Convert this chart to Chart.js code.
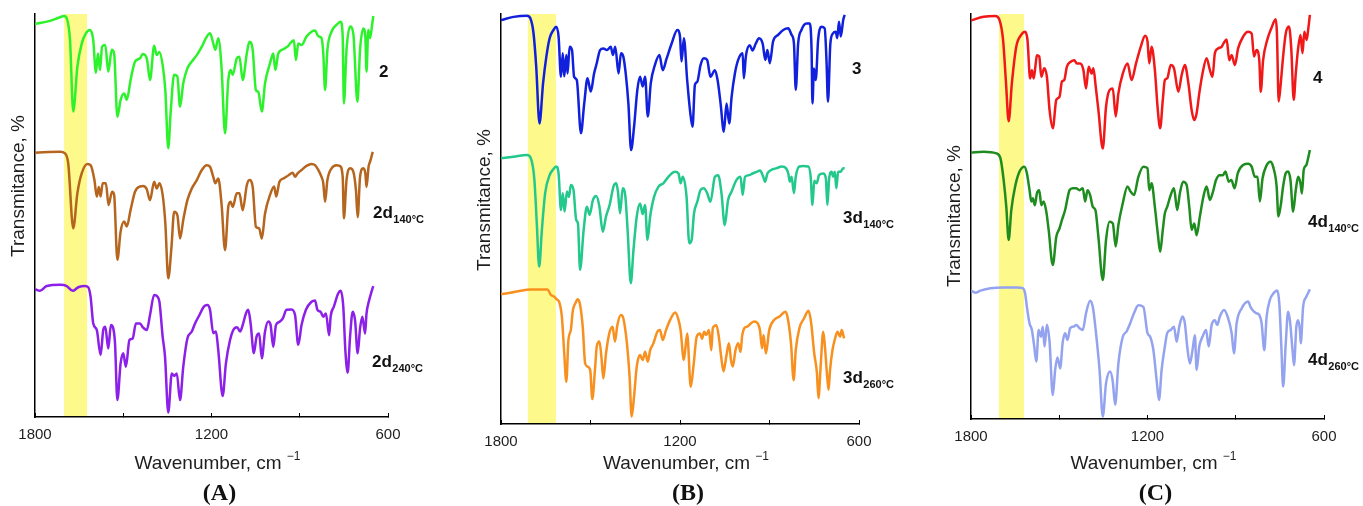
<!DOCTYPE html>
<html lang="en">
<head>
    <meta charset="UTF-8">
    <title>IR spectra (A) (B) (C)</title>
    <script src="https://cdn.jsdelivr.net/npm/chart.js"></script>
    <style>
        body {
            margin: 0;
            background: #ffffff;
        }
        .wrap {
            position: relative;
            width: 1363px;
            height: 506px;
        }
        canvas {
            position: absolute;
            top: 0;
        }
    </style>
</head>
<body>
    <div class="wrap">
        <canvas id="chartA" width="455" height="506" style="left:0px"></canvas>
        <canvas id="chartB" width="455" height="506" style="left:455px"></canvas>
        <canvas id="chartC" width="453" height="506" style="left:910px"></canvas>
    </div>

    <script>
        // axis ticks (cm-1), labelled ones
        const xTickLabels = [1800, 1200, 600];

        // highlighted C=O region for each panel (cm-1)
        const bandA = [1701, 1623];
        const bandB = [1710, 1616];
        const bandC = [1705, 1620];

        // ---- panel A ----
        const wn2 = [1800,1749,1715,1701,1692,1681,1670,1656,1641,1627,1613,1602,1593,1586,1579,1572,1561,1551,1539,1531,1520,1509,1497,1488,1475,1460,1443,1434,1420,1409,1395,1386,1377,1366,1357,1347,1339,1327,1316,1307,1296,1282,1267,1250,1233,1219,1205,1194,1187,1177,1166,1154,1143,1135,1128,1114,1105,1094,1080,1071,1060,1049,1041,1029,1018,1001,990,983,973,958,942,928,920,913,905,894,877,860,848,837,826,820,814,806,792,775,761,754,750,741,729,718,704,695,684,677,673,667,661,654,650];
        const t2 = [97.5,98.3,99.2,99.5,98.9,93.5,75.8,86.9,92.7,95.2,96.0,93.5,85.4,90.2,86.1,91.9,92.3,85.7,91.1,90.2,74.5,78.7,80.3,78.7,83.6,88.2,89.0,90.1,89.0,83.6,92.1,89.8,90.6,87.3,81.1,66.7,75.4,84.9,84.5,77.0,82.8,86.5,88.2,89.8,91.9,94.0,95.2,92.7,91.1,94.0,86.9,70.4,83.6,86.1,84.9,89.0,89.4,83.6,90.2,93.1,91.1,81.1,80.7,75.8,82.8,87.8,90.2,86.1,90.2,91.2,91.9,93.1,93.5,88.6,92.7,92.3,94.4,95.6,95.9,94.5,94.0,90.2,81.1,91.1,95.6,97.3,98.1,94.4,77.8,91.1,96.9,95.2,78.2,91.1,96.4,94.4,85.7,96.0,94.0,97.3,99.5];

        const wn2d140 = [1800,1715,1698,1687,1670,1656,1641,1622,1611,1598,1590,1583,1577,1570,1559,1550,1538,1531,1520,1509,1497,1488,1475,1460,1443,1432,1420,1409,1395,1386,1377,1366,1357,1347,1336,1327,1316,1307,1296,1282,1267,1250,1233,1216,1205,1194,1187,1177,1166,1154,1143,1135,1128,1114,1105,1094,1080,1071,1060,1049,1038,1029,1018,1001,987,980,969,955,938,924,916,908,894,877,860,848,837,826,820,814,806,792,775,764,754,750,741,729,718,709,703,695,684,677,673,666,659,652];
        const t2d140 = [65.6,65.8,65.4,62.9,46.8,55.5,60.5,62.8,62.5,58.8,54.7,57.1,54.7,58.0,58.0,52.6,55.9,55.1,39.0,46.0,48.5,47.3,51.4,55.9,57.2,57.3,56.5,53.8,58.4,56.7,58.0,55.1,48.1,34.4,42.3,50.9,50.1,44.3,48.9,53.8,56.7,58.8,61.3,62.5,62.1,59.6,58.0,59.2,53.0,41.4,52.1,53.4,52.1,55.5,55.5,51.3,57.5,58.8,57.1,47.2,46.8,44.3,50.5,55.1,57.2,54.7,58.4,59.2,60.0,60.6,59.6,60.4,61.3,62.3,62.8,62.5,61.3,59.6,58.0,53.4,58.8,61.7,62.5,62.3,59.6,49.3,58.8,61.7,60.9,56.3,49.6,59.6,61.7,60.4,57.1,62.1,63.8,65.8];

        const wn2d240 = [1800,1783,1760,1715,1692,1672,1653,1630,1619,1611,1602,1590,1577,1568,1561,1551,1542,1534,1528,1520,1509,1500,1491,1479,1468,1457,1443,1434,1420,1409,1395,1384,1377,1366,1358,1347,1335,1327,1318,1307,1296,1282,1267,1256,1241,1226,1214,1205,1194,1185,1177,1162,1151,1137,1126,1113,1103,1094,1083,1075,1067,1056,1047,1038,1029,1018,1007,999,990,981,969,958,945,928,916,905,894,879,860,848,840,829,820,811,800,795,784,769,761,752,745,737,729,720,712,703,695,687,678,673,664,656,650];
        const t2d240 = [31.7,31.3,32.5,32.8,32.5,31.3,32.2,32.5,32.2,29.8,23.2,21.6,15.4,21.6,22.4,17.0,22.8,22.0,18.3,4.2,13.3,15.8,12.5,19.1,19.5,23.2,23.2,22.3,21.6,25.3,30.3,29.9,28.6,19.9,15.0,1.1,10.8,10.2,10.8,4.2,12.5,19.5,21.2,23.2,25.3,27.4,27.8,26.6,20.8,21.2,16.6,5.2,13.3,19.1,21.6,22.3,21.2,22.8,25.7,26.6,23.2,15.8,19.9,20.7,14.6,21.2,23.7,22.8,17.4,22.8,23.6,24.4,26.6,26.7,25.3,17.9,22.8,26.6,28.6,28.9,26.6,26.1,24.9,25.7,20.3,24.9,27.4,30.7,31.3,27.4,16.6,11.0,19.9,26.1,24.0,15.8,22.0,24.9,20.7,25.7,29.0,31.1,32.5];

        // ---- panel B ----
        const wn3 = [1800,1758,1713,1702,1691,1682,1671,1659,1648,1637,1624,1615,1607,1599,1593,1588,1581,1577,1570,1562,1555,1546,1532,1521,1510,1499,1488,1479,1468,1457,1445,1432,1425,1417,1406,1398,1390,1382,1373,1364,1354,1343,1334,1325,1317,1308,1298,1284,1269,1258,1245,1228,1209,1200,1195,1187,1176,1166,1158,1150,1142,1131,1120,1109,1098,1083,1074,1064,1053,1044,1035,1027,1016,1005,990,986,979,966,957,946,935,923,914,907,899,888,871,854,837,826,818,812,804,793,776,765,759,756,751,745,737,726,715,709,704,696,687,678,673,667,661,653,648];
        const t3 = [98.5,99.3,99.6,99.0,95.3,87.2,73.3,83.1,89.6,94.1,96.1,96.9,94.5,84.7,90.4,84.8,90.0,85.5,92.0,91.2,84.7,83.9,70.9,78.2,84.3,81.1,85.5,88.0,91.2,91.6,91.2,92.0,90.0,92.0,85.5,90.4,89.6,85.5,78.2,66.8,72.5,81.5,84.7,82.3,84.7,75.0,83.1,87.6,90.0,86.3,89.1,92.8,96.1,94.5,88.4,94.1,83.9,76.2,72.5,82.7,83.5,87.6,89.2,88.8,84.7,86.3,83.9,78.2,71.3,78.2,73.3,79.8,85.5,88.8,90.4,84.3,89.8,92.4,91.1,92.8,94.1,92.8,88.8,91.2,88.0,93.3,94.9,96.1,96.5,94.9,92.8,81.5,92.8,96.1,97.7,97.7,91.2,78.2,86.7,83.9,93.7,96.9,96.5,88.8,78.6,92.8,95.3,95.7,94.1,98.1,94.5,98.5,99.8];

        const wn3d140 = [1800,1758,1713,1700,1688,1680,1672,1663,1652,1637,1626,1615,1607,1599,1593,1587,1579,1572,1566,1557,1548,1542,1535,1523,1512,1503,1492,1481,1470,1459,1448,1436,1423,1414,1408,1401,1392,1383,1375,1365,1356,1345,1334,1325,1317,1309,1300,1287,1272,1256,1239,1217,1205,1198,1191,1178,1169,1161,1153,1142,1131,1120,1109,1098,1083,1072,1061,1050,1039,1027,1011,997,990,982,968,957,943,932,921,915,907,893,876,859,845,837,832,826,818,812,800,787,770,762,756,750,742,734,720,711,706,700,692,687,681,676,670,662,653,648];
        const t3d140 = [64.8,65.2,65.6,64.8,59.5,48.9,38.4,47.3,56.3,60.7,62.0,62.8,61.1,52.2,56.3,51.8,56.7,55.4,58.3,57.1,49.8,48.9,37.6,47.3,53.0,51.0,54.6,55.6,53.0,46.9,50.6,53.4,57.9,58.7,56.7,51.4,57.5,55.4,46.5,34.3,42.4,50.6,53.8,51.2,53.4,44.9,50.6,55.4,57.9,58.7,60.3,61.5,61.1,58.7,60.3,55.4,44.1,44.9,51.4,54.2,57.1,57.5,56.3,54.2,60.3,60.7,56.3,48.5,54.6,56.7,59.5,60.3,55.9,60.3,60.7,61.1,61.5,61.8,60.3,59.1,61.1,62.0,62.4,62.8,62.4,61.1,59.1,60.3,56.3,60.3,62.8,62.9,62.8,60.3,53.4,59.3,58.7,60.7,61.1,59.9,53.4,59.9,61.5,60.3,61.5,57.5,61.5,61.5,62.4,62.4];

        const wn3d260 = [1800,1769,1735,1702,1668,1644,1633,1622,1613,1605,1596,1588,1581,1574,1566,1559,1551,1543,1535,1526,1518,1510,1501,1494,1485,1479,1470,1463,1457,1448,1437,1426,1418,1410,1398,1390,1378,1369,1362,1354,1345,1334,1325,1317,1308,1300,1289,1276,1267,1258,1247,1233,1216,1205,1198,1187,1176,1164,1155,1144,1133,1126,1119,1112,1103,1095,1090,1078,1070,1062,1054,1045,1036,1029,1023,1014,1005,997,992,984,973,962,951,940,932,925,920,912,901,884,865,847,840,828,819,812,800,784,769,761,750,741,736,728,720,714,708,702,697,689,680,672,663,658,650];
        const t3d260 = [31.7,32.0,32.5,32.8,32.8,32.8,31.5,31.1,30.4,29.8,26.2,17.2,10.3,20.5,22.9,27.8,29.4,30.4,29.1,23.7,14.8,14.0,13.2,6.1,13.2,18.9,20.1,16.0,11.1,17.2,22.1,23.7,20.1,24.1,26.6,25.8,19.7,11.5,1.8,6.7,14.0,16.8,15.6,17.6,15.2,18.0,19.7,22.5,22.9,20.5,22.9,25.4,27.2,25.4,22.9,15.6,22.1,9.1,14.0,21.3,22.1,20.8,22.5,21.7,22.9,18.0,23.4,24.1,21.3,16.4,12.8,16.4,19.7,15.6,14.0,18.0,19.7,17.6,21.3,23.4,23.8,24.6,25.0,24.6,22.9,18.5,21.7,17.2,22.9,25.4,26.3,27.4,26.2,19.7,10.7,18.0,23.3,25.8,27.6,25.0,17.2,12.4,6.3,14.8,22.5,18.7,12.8,8.3,13.2,18.0,20.9,22.5,21.3,22.9,20.9];

        // ---- panel C ----
        const wn4 = [1800,1757,1717,1703,1691,1681,1672,1661,1646,1630,1616,1608,1599,1593,1587,1581,1576,1568,1561,1551,1542,1533,1522,1510,1499,1491,1483,1474,1461,1449,1440,1429,1418,1409,1400,1390,1384,1376,1367,1352,1341,1329,1318,1308,1299,1284,1268,1254,1239,1223,1208,1200,1194,1186,1175,1165,1157,1148,1141,1133,1121,1110,1095,1084,1073,1061,1050,1041,1033,1024,1013,999,988,979,971,960,948,941,931,922,914,903,892,875,858,846,838,829,820,815,807,793,779,764,760,754,747,739,730,719,711,703,696,688,680,673,667,659,654,648];
        const t4 = [98.4,99.3,99.5,98.5,93.6,83.0,73.5,83.0,92.0,94.8,95.6,93.6,84.1,86.1,84.1,87.1,89.8,89.5,84.5,86.6,84.5,76.3,71.8,78.8,79.6,83.3,83.7,87.0,88.2,88.6,87.8,87.8,86.2,81.6,87.0,85.3,86.6,82.1,76.3,66.8,77.1,81.2,81.6,74.7,80.4,85.3,87.8,83.7,87.8,91.9,94.6,93.2,87.8,91.9,86.2,76.3,71.8,78.8,83.7,84.1,87.4,86.6,80.8,84.9,87.4,82.9,76.3,73.8,75.5,80.4,85.3,89.1,86.2,84.5,90.3,91.5,91.9,92.8,93.7,88.6,89.9,87.4,91.5,94.4,95.6,95.2,89.5,91.1,88.6,80.8,88.6,93.6,96.5,98.7,95.2,78.4,82.9,89.5,95.2,96.9,91.1,78.8,85.3,91.5,94.8,90.3,95.6,93.6,96.0,99.8];

        const wn4d140 = [1800,1757,1714,1700,1689,1680,1672,1663,1650,1635,1619,1610,1601,1595,1590,1583,1576,1568,1561,1553,1544,1536,1522,1510,1499,1491,1480,1465,1454,1443,1431,1420,1412,1404,1395,1386,1377,1367,1352,1341,1329,1318,1308,1299,1284,1268,1257,1246,1231,1214,1200,1194,1186,1175,1165,1157,1148,1141,1133,1121,1110,1099,1090,1079,1067,1058,1050,1041,1033,1022,1010,999,988,979,967,955,944,935,924,915,904,893,875,858,846,835,826,818,809,796,782,773,761,755,747,739,730,722,714,705,696,688,680,675,669,660,654,648];
        const t4d140 = [65.8,66.0,65.6,64.4,59.0,52.4,44.2,51.6,57.4,61.1,62.3,60.7,56.5,53.7,54.5,52.8,55.7,56.5,52.8,53.7,51.2,46.7,38.0,45.0,47.1,49.1,51.6,56.5,57.0,57.0,56.5,57.0,53.7,56.5,55.3,52.4,51.6,45.0,34.3,44.2,48.7,48.3,42.6,47.9,53.3,57.4,56.1,55.3,59.8,62.3,61.9,56.5,58.2,52.4,45.8,41.3,46.7,50.8,52.4,55.3,57.0,51.6,55.7,58.6,57.8,52.4,46.7,48.3,45.4,50.0,54.9,57.4,54.1,55.7,59.0,60.2,60.2,61.1,58.6,59.0,57.0,60.7,62.7,63.0,62.3,59.8,59.8,53.7,59.4,62.5,63.5,62.3,57.4,50.0,52.8,57.4,60.7,61.1,59.0,51.2,56.5,59.8,58.2,55.7,61.5,62.7,64.4,66.4];

        const wn4d260 = [1800,1785,1768,1734,1689,1644,1624,1616,1610,1601,1593,1585,1578,1570,1562,1556,1550,1542,1533,1522,1514,1506,1497,1488,1480,1472,1463,1452,1442,1431,1420,1409,1395,1386,1375,1363,1352,1341,1327,1318,1310,1299,1284,1271,1259,1246,1231,1214,1200,1191,1180,1169,1161,1152,1141,1133,1121,1110,1101,1092,1081,1073,1065,1056,1047,1039,1033,1024,1013,1001,992,982,971,963,954,940,926,914,906,897,880,858,850,838,829,820,812,803,795,784,773,759,752,745,739,730,722,716,707,702,694,688,682,679,671,660,648];
        const t4d260 = [31.7,31.2,31.7,32.3,32.5,32.5,32.3,31.0,27.7,23.6,22.0,17.9,14.2,22.0,20.3,22.8,17.9,23.3,19.1,5.9,12.1,15.2,12.5,19.1,21.2,19.5,22.4,22.8,23.2,22.4,22.0,26.1,29.2,27.7,21.2,12.1,0.6,8.8,11.7,9.2,3.5,13.7,20.3,21.6,23.6,26.1,28.1,27.7,21.2,20.3,17.0,9.6,4.7,12.1,17.9,21.2,22.0,22.8,19.1,22.8,25.3,23.6,17.9,13.7,17.0,20.7,12.1,17.9,20.3,22.0,17.9,23.2,24.4,23.2,25.3,26.9,24.9,21.2,16.2,23.6,27.3,29.0,27.7,26.5,26.1,25.7,23.6,17.0,25.3,29.4,30.9,31.7,28.6,17.9,8.0,18.7,26.5,24.4,17.0,13.3,22.8,24.4,22.0,18.7,27.7,30.2,32.0];

        const sansFont = '"Liberation Sans", Arial, sans-serif';
        const textColor = '#1e1e1e';

        // yellow band, series labels, axis titles and panel letter
        const panelText = {
            id: 'panelText',
            beforeDraw(chart, args, opts) {
                const {ctx, chartArea, scales: {x}} = chart;
                const x1 = x.getPixelForValue(opts.band[0]);
                const x2 = x.getPixelForValue(opts.band[1]);
                ctx.save();
                ctx.fillStyle = '#fdf98a';
                ctx.fillRect(Math.min(x1, x2), chartArea.top, Math.abs(x2 - x1), chartArea.bottom - chartArea.top);
                ctx.restore();
            },
            afterDraw(chart, args, opts) {
                const {ctx, chartArea, scales: {y}} = chart;
                const mid = (chartArea.left + chartArea.right) / 2;
                ctx.save();
                ctx.fillStyle = textColor;

                // y title
                ctx.save();
                ctx.translate(chartArea.left - 16, opts.yTitleAt);
                ctx.rotate(-Math.PI / 2);
                ctx.font = '19px ' + sansFont;
                ctx.textAlign = 'center';
                ctx.textBaseline = 'middle';
                ctx.fillText('Transmitance, %', 0, 0);
                ctx.restore();

                // x title with superscript
                ctx.font = '19px ' + sansFont;
                const main = 'Wavenumber, cm ';
                const wMain = ctx.measureText(main).width;
                ctx.font = '12px ' + sansFont;
                const wSup = ctx.measureText('\u22121').width;
                const x0 = mid + 6 - (wMain + wSup) / 2;
                ctx.textAlign = 'left';
                ctx.textBaseline = 'middle';
                ctx.font = '19px ' + sansFont;
                ctx.fillText(main, x0, 464);
                ctx.font = '12px ' + sansFont;
                ctx.fillText('\u22121', x0 + wMain, 457);

                // panel letter
                ctx.font = 'bold 24px "Liberation Serif", "Times New Roman", serif';
                ctx.textAlign = 'center';
                ctx.fillStyle = '#111';
                ctx.fillText(opts.letter, mid + 8, 494);

                // series labels
                ctx.textAlign = 'left';
                ctx.textBaseline = 'alphabetic';
                opts.labels.forEach(l => {
                    const ly = y.getPixelForValue(l.at);
                    const lx = chartArea.right + l.dx;
                    ctx.font = 'bold 17px ' + sansFont;
                    ctx.fillText(l.text, lx, ly);
                    if (l.sub) {
                        const w = ctx.measureText(l.text).width;
                        ctx.font = 'bold 11px ' + sansFont;
                        ctx.fillText(l.sub, lx + w + 0.5, ly + 5);
                    }
                });
                ctx.restore();
            }
        };

        function series(wn, t, color) {
            return {
                data: wn.map((w, i) => ({x: w, y: t[i]})),
                borderColor: color,
                borderWidth: 2.5,
                pointRadius: 0,
                fill: false,
                cubicInterpolationMode: 'monotone'
            };
        }

        function makePanel(id, datasets, cfg) {
            return new Chart(document.getElementById(id), {
                type: 'line',
                data: {datasets: datasets},
                options: {
                    responsive: false,
                    animation: false,
                    events: [],
                    layout: {padding: {top: 14, right: cfg.padRight, bottom: 0, left: 0}},
                    scales: {
                        x: {
                            type: 'linear',
                            reverse: true,
                            min: 600,
                            max: 1800,
                            ticks: {
                                stepSize: 300,
                                autoSkip: false,
                                maxRotation: 0,
                                padding: 13,
                                color: textColor,
                                font: {family: sansFont, size: 15},
                                callback: v => xTickLabels.includes(v) ? String(v) : ''
                            },
                            grid: {display: true, drawOnChartArea: false, drawTicks: true, tickLength: -4, color: '#000', lineWidth: 1},
                            border: {display: true, color: '#000', width: 1.5},
                            afterFit: s => { s.height = cfg.xHeight; s.paddingLeft = 0; s.paddingRight = 0; }
                        },
                        y: {
                            min: 0,
                            max: 100,
                            ticks: {display: false},
                            grid: {display: false},
                            border: {display: true, color: '#000', width: 1.5},
                            afterFit: s => { s.width = cfg.yWidth; }
                        }
                    },
                    plugins: {
                        legend: {display: false},
                        tooltip: {enabled: false},
                        panelText: {band: cfg.band, labels: cfg.labels, letter: cfg.letter, yTitleAt: cfg.yTitleAt}
                    }
                },
                plugins: [panelText]
            });
        }

        makePanel('chartA', [
            series(wn2, t2, '#2cf22c'),
            series(wn2d140, t2d140, '#b5651d'),
            series(wn2d240, t2d240, '#8c1fe8')
        ], {
            padRight: 67, yWidth: 35, xHeight: 89, band: bandA, letter: '(A)', yTitleAt: 186,
            labels: [
                {text: '2', at: 84.4, dx: -9},
                {text: '2d', sub: '140\u00b0C', at: 49.4, dx: -15},
                {text: '2d', sub: '240\u00b0C', at: 12.4, dx: -16}
            ]
        });

        makePanel('chartB', [
            series(wn3, t3, '#1020dd'),
            series(wn3d140, t3d140, '#22c88c'),
            series(wn3d260, t3d260, '#f7901e')
        ], {
            padRight: 51, yWidth: 46, xHeight: 82, band: bandB, letter: '(B)', yTitleAt: 200,
            labels: [
                {text: '3', at: 85.4, dx: -7},
                {text: '3d', sub: '140\u00b0C', at: 49.0, dx: -16},
                {text: '3d', sub: '260\u00b0C', at: 10.0, dx: -16}
            ]
        });

        makePanel('chartC', [
            series(wn4, t4, '#f01818'),
            series(wn4d140, t4d140, '#1e8c1e'),
            series(wn4d260, t4d260, '#93a3ef')
        ], {
            padRight: 39, yWidth: 61, xHeight: 87, band: bandC, letter: '(C)', yTitleAt: 216,
            labels: [
                {text: '4', at: 83.0, dx: -11},
                {text: '4d', sub: '140\u00b0C', at: 47.4, dx: -16},
                {text: '4d', sub: '260\u00b0C', at: 13.3, dx: -16}
            ]
        });
    </script>
</body>
</html>
